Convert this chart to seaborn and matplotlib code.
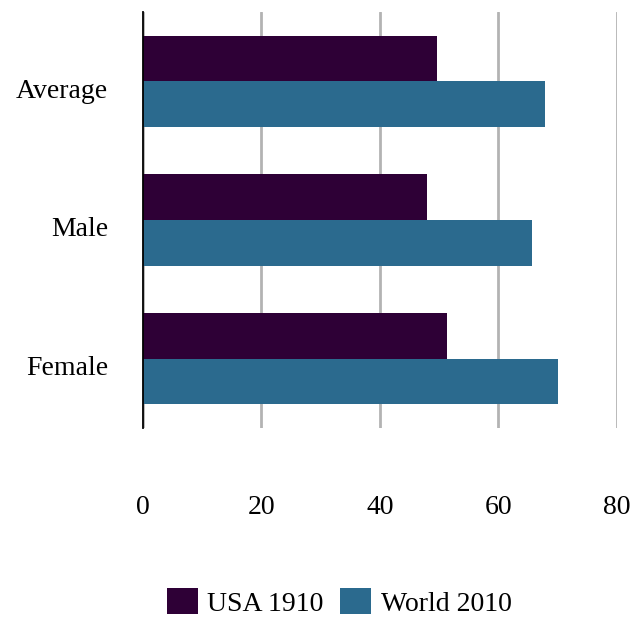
import pandas as pd
import matplotlib.pyplot as plt
import matplotlib.transforms as mtransforms
import seaborn as sns

# Life expectancy values
categories = ["Average", "Male", "Female"]
usa_1910 = [49.7, 48.0, 51.4]
world_2010 = [67.8, 65.7, 70.1]
series_names = ["USA 1910", "World 2010"]
colors = ["#2e0036", "#2b6a8e"]

df = pd.DataFrame({
    "category": categories * 2,
    "value": usa_1910 + world_2010,
    "series": [series_names[0]] * 3 + [series_names[1]] * 3,
})

sns.set_theme(style="white")
plt.rcParams['font.family'] = ['Liberation Serif', 'DejaVu Serif']
plt.rcParams['text.color'] = 'black'

fig = plt.figure(figsize=(6.34, 6.17), dpi=100)
ax = fig.add_axes([0.2256, 0.3063, 0.7474, 0.6743])

sns.barplot(data=df, y="category", x="value", hue="series", order=categories,
            hue_order=series_names, palette=colors, orient="h", width=0.66,
            saturation=1, linewidth=0, ax=ax, legend=True)

ax.set_xlim(0, 80)
ax.set_xticks([0, 20, 40, 60, 80])
ax.set_xlabel("")
ax.set_ylabel("")
ax.xaxis.grid(True, color="#b3b3b3", linewidth=2)
ax.set_axisbelow(True)
for side in ["top", "right", "bottom"]:
    ax.spines[side].set_visible(False)
ax.spines["left"].set_color("black")
ax.spines["left"].set_linewidth(1.3)
ax.tick_params(axis="x", length=0, pad=48, labelsize=20, colors="black")
ax.tick_params(axis="y", length=0, pad=25, labelsize=20, colors="black")

# category labels sit a little below the group centre in the reference
shift = mtransforms.ScaledTranslation(0, -5 / 72, fig.dpi_scale_trans)
for lbl in ax.get_yticklabels():
    lbl.set_transform(lbl.get_transform() + shift)

handles, labels = ax.get_legend_handles_labels()
ax.get_legend().remove()
leg = fig.legend(handles, labels, loc="center", bbox_to_anchor=(0.535, 0.024),
                 ncol=2, frameon=False, fontsize=20, handlelength=1.1,
                 handleheight=1.1, handletextpad=0.35, columnspacing=0.6)
for t in leg.get_texts():
    t.set_color("black")

fig.savefig("out.png", dpi=100)
